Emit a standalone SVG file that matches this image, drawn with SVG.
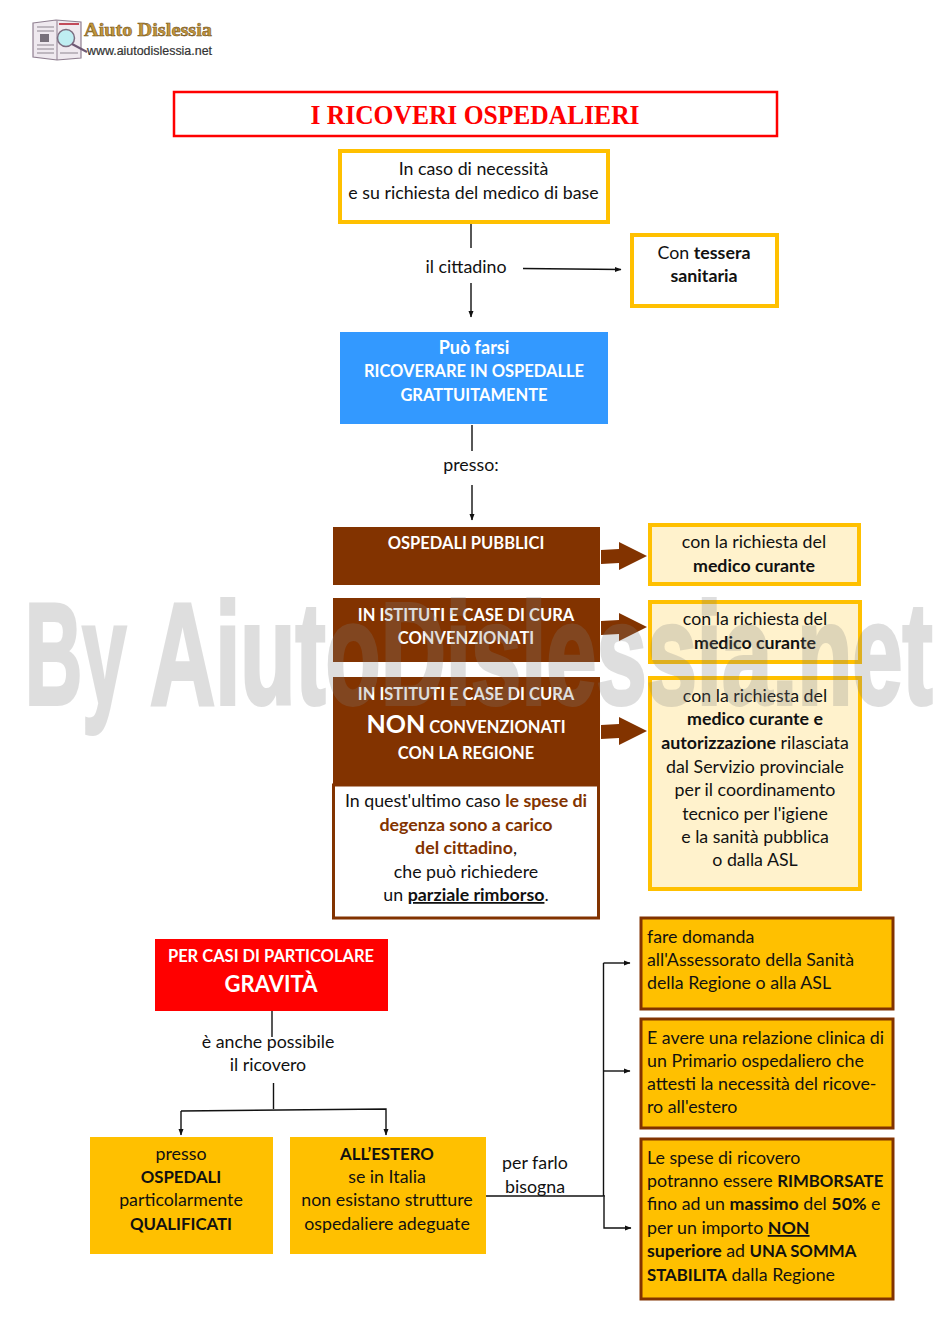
<svg xmlns="http://www.w3.org/2000/svg" width="950" height="1344" viewBox="0 0 950 1344">
<style>
text{font-family:Lato,"Liberation Sans",sans-serif;font-size:17.8px;fill:#111;text-anchor:middle}
.l{text-anchor:start}
.b{font-weight:700}
.k{font-weight:700;font-size:16.8px}
.w{fill:#fff;font-weight:700;font-size:16.5px}
.r{fill:#823300;font-weight:700}
.c{fill:none;stroke:#111;stroke-width:1.4}
.cream{fill:#fff2cc;stroke:#ffc000;stroke-width:4}
.y{fill:#fff;stroke:#ffc000;stroke-width:4}
.gold{fill:#ffc000;stroke:#823300;stroke-width:3}
.br{fill:#823300}
.ar{fill:#823300}
.wm{font-family:'Liberation Sans',sans-serif;font-size:144px;font-weight:700;text-anchor:start;fill:#808080;stroke:#808080;stroke-width:4;opacity:.25}
</style>
<defs>
<marker id="a" markerWidth="7" markerHeight="6" refX="6" refY="3" orient="auto" markerUnits="userSpaceOnUse"><path d="M0 0.5L6.5 3L0 5.5z" fill="#111"/></marker>
<path id="big" d="M0 -6L18 -7L18 -14L46 0L18 14L18 7L0 8z"/>
</defs>
<rect width="950" height="1344" fill="#fff"/>
<g id="logo">
<path d="M33 23L56 20L81 22V58L57 60L33 57z" fill="#efe9ef" stroke="#8f7f90" stroke-width="1.2"/>
<path d="M57 21V60" stroke="#8f7f90"/>
<path d="M37 27H54M37 31H54M37 45H54M37 49H54M37 53H54M60 53H78" stroke="#8d8590" stroke-width="1.2"/>
<path d="M59 24H79" stroke="#c24a5a" stroke-width="2"/>
<rect x="40" y="34" width="9" height="8" fill="#77707a"/>
<circle cx="66" cy="38" r="8.500" fill="#bfeef2" stroke="#7c6d80" stroke-width="1.5"/>
<path d="M72 44L87 52" stroke="#6e5a75" stroke-width="2"/>
<text class="l b" x="84" y="36" style="font-family:'Liberation Serif',serif;font-size:19px;fill:#c2963a;stroke:#6b4a16;stroke-width:.5" textLength="128" lengthAdjust="spacingAndGlyphs">Aiuto Dislessia</text>
<text class="l" x="87" y="55" style="font-family:'Liberation Sans',sans-serif;font-size:12px;fill:#333;stroke:#333;stroke-width:.2" textLength="125" lengthAdjust="spacingAndGlyphs">www.aiutodislessia.net</text>
</g>
<g id="title"><rect x="174" y="92" width="603" height="44" fill="#fff" stroke="#f00" stroke-width="2.5"/>
<text x="475" y="124" class="b" style="font-family:'Liberation Serif',serif;font-size:27px;fill:#f00" textLength="329" lengthAdjust="spacingAndGlyphs">I RICOVERI OSPEDALIERI</text></g>
<g id="connectors">
<path class="c" d="M471 224V248M471 283V317" marker-end="url(#a)"/>
<path class="c" d="M523 268.500L621 269.500" marker-end="url(#a)"/>
<path class="c" d="M472 425V451M472 485V520" marker-end="url(#a)"/>
<path class="c" d="M272 1011V1037"/>
<path class="c" d="M273.500 1083V1109"/>
<path class="c" d="M181 1111L386 1109V1135" marker-end="url(#a)"/>
<path class="c" d="M181 1111V1135" marker-end="url(#a)"/>
<path class="c" d="M484 1196H605"/>
<path class="c" d="M603.500 963V1196"/>
<path class="c" d="M603.500 963H630" marker-end="url(#a)"/>
<path class="c" d="M604 1071H630" marker-end="url(#a)"/>
<path class="c" d="M604 1196.500V1228H631" marker-end="url(#a)"/>
</g>
<g id="n1"><rect class="y" x="340" y="151" width="268" height="71"/><text x="473.500" y="175">In caso di necessità</text><text x="473.500" y="199">e su richiesta del medico di base</text></g>
<g id="l1"><text x="466" y="273">il cittadino</text></g>
<g id="n2"><rect class="y" x="632" y="235" width="145" height="71"/><text x="704" y="259">Con <tspan class="b">tessera</tspan></text><text x="704" y="282" class="b">sanitaria</text></g>
<g id="n3"><rect x="340" y="332" width="268" height="92" fill="#3399ff"/><text class="w" style="font-size:18px" x="474" y="354">Può farsi</text><text class="w" x="474" y="377">RICOVERARE IN OSPEDALLE</text><text class="w" x="474" y="401">GRATTUITAMENTE</text></g>
<g id="l2"><text x="471" y="471">presso:</text></g>
<g id="n4"><rect class="br" x="333" y="527" width="267" height="58"/><text class="w" x="466" y="549">OSPEDALI PUBBLICI</text></g>
<g id="n5"><rect class="br" x="333" y="598" width="267" height="64"/><text class="w" x="466" y="621">IN ISTITUTI E CASE DI CURA</text><text class="w" x="466" y="644">CONVENZIONATI</text></g>
<g id="n6"><rect class="br" x="333" y="677" width="267" height="108"/><text class="w" x="466" y="700">IN ISTITUTI E CASE DI CURA</text><text class="w" x="466" y="733"><tspan style="font-size:25px">NON</tspan> CONVENZIONATI</text><text class="w" x="466" y="759">CON LA REGIONE</text></g>
<g id="n7"><rect x="333.500" y="785" width="265" height="133" fill="#fff" stroke="#823300" stroke-width="3"/>
<text x="466" y="807">In quest'ultimo caso <tspan class="r">le spese di</tspan></text><text x="466" y="831" class="r">degenza sono a carico</text><text x="466" y="854" class="r">del cittadino<tspan style="fill:#111;font-weight:400">,</tspan></text><text x="466" y="878">che può richiedere</text><text x="466" y="901">un <tspan class="b" text-decoration="underline">parziale rimborso</tspan>.</text></g>
<use href="#big" class="ar" x="601" y="556"/><use href="#big" class="ar" x="601" y="627"/><use href="#big" class="ar" x="601" y="731"/>
<g id="n8"><rect class="cream" x="650" y="525" width="209" height="59"/><text x="754" y="548">con la richiesta del</text><text x="754" y="572" class="b">medico curante</text></g>
<g id="n9"><rect class="cream" x="650" y="602" width="210" height="60"/><text x="755" y="625">con la richiesta del</text><text x="755" y="649" class="b">medico curante</text></g>
<g id="n10"><rect class="cream" x="650" y="678" width="210" height="211"/>
<text x="755" y="702">con la richiesta del</text><text x="755" y="725" class="b">medico curante e</text><text x="755" y="749"><tspan class="b">autorizzazione</tspan> rilasciata</text><text x="755" y="773">dal Servizio provinciale</text><text x="755" y="796">per il coordinamento</text><text x="755" y="820">tecnico per l'igiene</text><text x="755" y="843">e la sanità pubblica</text><text x="755" y="866">o dalla ASL</text></g>
<g id="n11"><rect x="155" y="939" width="233" height="72" fill="#f00"/><text class="w" x="271" y="962">PER CASI DI PARTICOLARE</text><text class="w" x="271" y="992" style="font-size:22px">GRAVITÀ</text></g>
<g id="l3"><text x="268" y="1048">è anche possibile</text><text x="268" y="1071">il ricovero</text></g>
<g id="n12"><rect x="90" y="1137" width="183" height="117" fill="#ffc000"/><text x="181" y="1160">presso</text><text x="181" y="1183" class="k">OSPEDALI</text><text x="181" y="1206">particolarmente</text><text x="181" y="1230" class="k">QUALIFICATI</text></g>
<g id="n13"><rect x="290" y="1137" width="196" height="117" fill="#ffc000"/><text x="387" y="1160" class="k">ALL’ESTERO</text><text x="387" y="1183">se in Italia</text><text x="387" y="1206">non esistano strutture</text><text x="387" y="1230">ospedaliere adeguate</text></g>
<g id="l4"><text x="535" y="1169">per farlo</text><text x="535" y="1193">bisogna</text></g>
<g id="n14"><rect class="gold" x="641" y="918" width="252" height="91"/><text class="l" x="647" y="943">fare domanda</text><text class="l" x="647" y="966">all'Assessorato della Sanità</text><text class="l" x="647" y="989">della Regione o alla ASL</text></g>
<g id="n15"><rect class="gold" x="641" y="1019" width="252" height="109"/><text class="l" x="647" y="1044">E avere una relazione clinica di</text><text class="l" x="647" y="1067">un Primario ospedaliero che</text><text class="l" x="647" y="1090">attesti la necessità del ricove-</text><text class="l" x="647" y="1113">ro all'estero</text></g>
<g id="n16"><rect class="gold" x="641" y="1139" width="252" height="160"/><text class="l" x="647" y="1164">Le spese di ricovero</text><text class="l" x="647" y="1187">potranno essere <tspan class="k">RIMBORSATE</tspan></text><text class="l" x="647" y="1210">fino ad un <tspan class="b">massimo</tspan> del <tspan class="b">50%</tspan> e</text><text class="l" x="647" y="1234">per un importo <tspan class="b" text-decoration="underline">NON</tspan></text><text class="l" x="647" y="1257"><tspan class="b">superiore</tspan> ad <tspan class="k">UNA SOMMA</tspan></text><text class="l" x="647" y="1281"><tspan class="k">STABILITA</tspan> dalla Regione</text></g>
<g id="watermark"><text class="wm" transform="translate(25 704) scale(.55 1)">By</text><text class="wm" transform="translate(150 704) scale(.627 1)">AiutoDislessia.net</text></g>
</svg>
